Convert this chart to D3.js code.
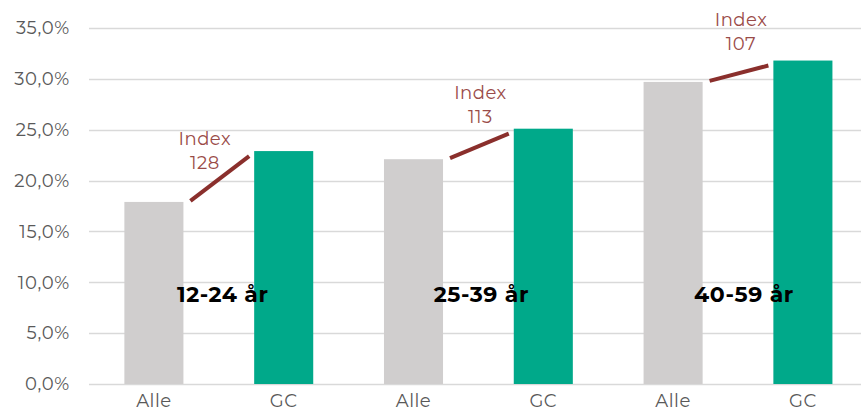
<!DOCTYPE html>
<html><head><meta charset="utf-8">
<script src="https://cdn.jsdelivr.net/npm/d3@7"></script>
<style>body{margin:0;background:#fff;} svg{display:block;}</style>
</head><body>
<svg id="c" width="861" height="420"></svg>
<script>
const groups = ["12-24 år", "25-39 år", "40-59 år"];
const barLabels = ["Alle", "GC"];
const alleValues = [0.179, 0.221, 0.297];
const gcValues = [0.229, 0.251, 0.318];
const indexLabels = ["128", "113", "107"];
const yTicks = [0, 0.05, 0.10, 0.15, 0.20, 0.25, 0.30, 0.35];

// layout for annotations (pixel offsets relative to derived positions)
const annotDx = [-14, 2, 3];
const annotDy = [12, -12, -17];
const groupLabelDx = [4, 3, 6];

(function () {
const svg = d3.select("#c");
const W = 861;
const plotLeft = 89, plotTop = 28, plotBottom = 384;

const cats = [];
groups.forEach((g, gi) => barLabels.forEach((b, bi) => cats.push({key: gi + "-" + bi, label: b, gi, bi, v: bi === 0 ? alleValues[gi] : gcValues[gi]})));

const x = d3.scaleBand().domain(cats.map(d => d.key)).range([plotLeft, plotLeft + 6 * 129.8]).paddingInner(0.545).paddingOuter(0.2725);
const y = d3.scaleLinear().domain([0, 0.35]).range([plotBottom, plotTop]);

const font = "Montserrat, 'Open Sans', 'Noto Sans', sans-serif";
const fmt = v => d3.format(".1f")(v * 100).replace(".", ",") + "%";

// gridlines
svg.append("g").selectAll("line").data(yTicks).join("line")
  .attr("x1", plotLeft).attr("x2", W)
  .attr("y1", d => Math.round(y(d)) + 0.5).attr("y2", d => Math.round(y(d)) + 0.5)
  .attr("stroke", "#d9d9d9").attr("stroke-width", 1.5);

// y axis labels
const yAxis = d3.axisLeft(y).tickValues(yTicks).tickFormat(fmt).tickSize(0).tickPadding(0);
const ya = svg.append("g").attr("transform", `translate(70,0)`).call(yAxis);
ya.select(".domain").remove();
ya.selectAll("text").attr("font-family", font).attr("font-size", 18).attr("letter-spacing", 0.7).attr("fill", "#595959");

// bars
svg.append("g").selectAll("rect").data(cats).join("rect")
  .attr("x", d => x(d.key)).attr("width", x.bandwidth())
  .attr("y", d => y(d.v)).attr("height", d => y(0) - y(d.v))
  .attr("fill", d => d.bi === 0 ? "#d0cece" : "#00a98a");

// x axis labels
const xAxis = d3.axisBottom(x).tickFormat(k => cats.find(c => c.key === k).label).tickSize(0).tickPadding(0);
const xa = svg.append("g").attr("transform", `translate(0,${plotBottom + 10})`).call(xAxis);
xa.select(".domain").remove();
xa.selectAll("text").attr("font-family", font).attr("font-size", 18).attr("letter-spacing", 0.5).attr("fill", "#595959").attr("dy", "0.71em");

// group labels
svg.append("g").selectAll("text").data(groups).join("text")
  .attr("x", (d, i) => (x(i + "-0") + x.bandwidth() + x(i + "-1")) / 2 + groupLabelDx[i])
  .attr("y", 302)
  .attr("text-anchor", "middle")
  .attr("font-family", font).attr("font-weight", 700).attr("font-size", 22).attr("letter-spacing", 0.6).attr("fill", "#000")
  .text(d => d);

// index lines
const lines = svg.append("g");
groups.forEach((g, i) => {
  const x1 = x(i + "-0") + x.bandwidth() + 7;
  const y1 = y(alleValues[i]) - 1;
  const x2 = x(i + "-1") - 5;
  const y2 = y(gcValues[i]) + 5;
  lines.append("line").attr("x1", x1).attr("y1", y1).attr("x2", x2).attr("y2", y2)
    .attr("stroke", "#8a2f2c").attr("stroke-width", 4);
  const cx = (x(i + "-0") + x.bandwidth() + x(i + "-1")) / 2 + annotDx[i];
  const cy = y(gcValues[i]) + annotDy[i];
  const t = svg.append("text").attr("text-anchor", "middle").attr("font-family", font)
    .attr("font-size", 18).attr("letter-spacing", 0.5).attr("fill", "#9a4b48");
  t.append("tspan").attr("x", cx).attr("y", cy - 18).text("Index");
  t.append("tspan").attr("x", cx).attr("y", cy + 6).text(indexLabels[i]);
});
})();
</script>
</body></html>
